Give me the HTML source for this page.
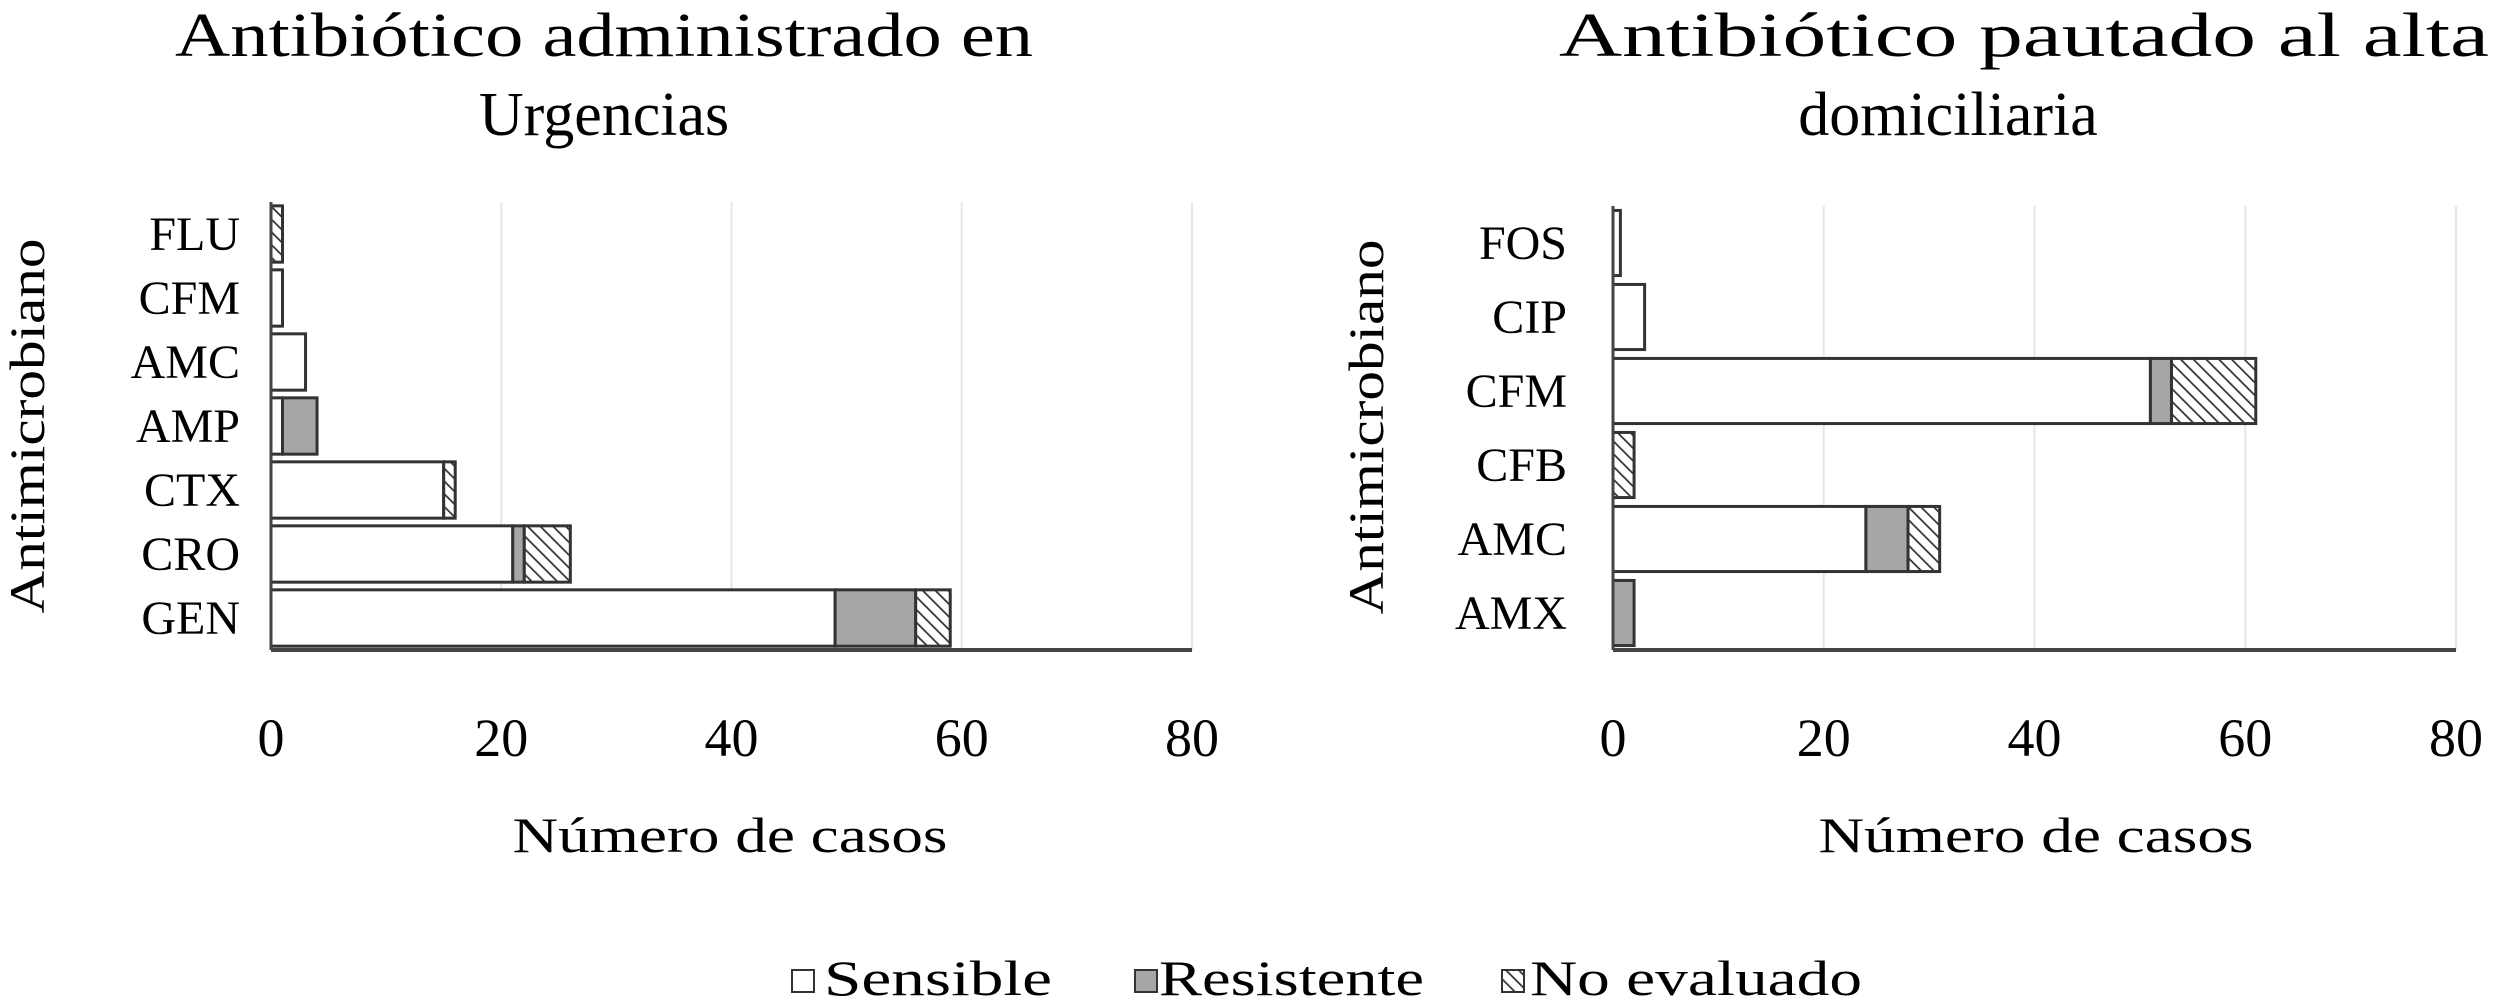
<!DOCTYPE html>
<html><head><meta charset="utf-8"><style>
body{margin:0;background:#fff}
svg{display:block;font-family:"Liberation Serif",serif}
</style></head><body>
<svg id="chart" width="2500" height="1008" viewBox="0 0 2500 1008">
<defs>
<pattern id="hatch" patternUnits="userSpaceOnUse" width="9" height="9" patternTransform="rotate(-45)">
<rect width="9" height="9" fill="#fff"/><line x1="0" y1="0" x2="0" y2="9" stroke="#333" stroke-width="3.5"/>
</pattern>
</defs>
<text x="604" y="56" font-size="62" text-anchor="middle" textLength="858" lengthAdjust="spacingAndGlyphs">Antibiótico administrado en</text>
<text x="604" y="135" font-size="62" text-anchor="middle">Urgencias</text>
<text x="2024" y="56" font-size="62" text-anchor="middle" textLength="930" lengthAdjust="spacingAndGlyphs">Antibiótico pautado al alta</text>
<text x="1948" y="135" font-size="62" text-anchor="middle">domiciliaria</text>
<text transform="translate(44,426) rotate(-90)" font-size="50" text-anchor="middle" textLength="375" lengthAdjust="spacingAndGlyphs">Antimicrobiano</text>
<text transform="translate(1383,427) rotate(-90)" font-size="50" text-anchor="middle" textLength="375" lengthAdjust="spacingAndGlyphs">Antimicrobiano</text>
<text x="730" y="852" font-size="50" text-anchor="middle" textLength="435" lengthAdjust="spacingAndGlyphs">Número de casos</text>
<text x="2036" y="852" font-size="50" text-anchor="middle" textLength="435" lengthAdjust="spacingAndGlyphs">Número de casos</text>
<g>
<rect x="792" y="970" width="22" height="22" fill="#fff" stroke="#333" stroke-width="2"/>
<text x="824" y="995" font-size="50" textLength="228" lengthAdjust="spacingAndGlyphs">Sensible</text>
<rect x="1135" y="970" width="22" height="22" fill="#a6a6a6" stroke="#333" stroke-width="2"/>
<text x="1159" y="995" font-size="50" textLength="265" lengthAdjust="spacingAndGlyphs">Resistente</text>
<rect x="1502" y="970" width="22" height="22" fill="url(#hatch)" stroke="#333" stroke-width="2"/>
<text x="1530" y="995" font-size="50" textLength="332" lengthAdjust="spacingAndGlyphs">No evaluado</text>
</g>
</svg>
<script>
const ticks=[0,20,40,60,80];
const leftCats=["FLU","CFM","AMC","AMP","CTX","CRO","GEN"];
const leftSensible=[0,1,3,1,15,21,49];
const leftResistente=[0,0,0,3,0,1,7];
const leftNoEval=[1,0,0,0,1,4,3];
const rightCats=["FOS","CIP","CFM","CFB","AMC","AMX"];
const rightSensible=[0.7,3,51,0,24,0];
const rightResistente=[0,0,2,0,4,2];
const rightNoEval=[0,0,8,2,3,0];
const svg=document.getElementById('chart');
const NS='http://www.w3.org/2000/svg';
function mk(tag,attrs){const e=document.createElementNS(NS,tag);for(const k in attrs)e.setAttribute(k,attrs[k]);svg.appendChild(e);return e;}
function panel(p,cats,s,r,n,x0,x80,top,base,labelX){
  const xs=v=>x0+(x80-x0)*v/80;
  const band=(base-top)/cats.length;
  ticks.forEach(t=>{
    if(t>0){const g=mk('line',{x1:xs(t),x2:xs(t),y1:top,y2:base,stroke:'#e6e6e6','stroke-width':2});
    
    }
    const tl=mk('text',{x:xs(t),y:756,'font-size':54,'text-anchor':'middle'});tl.textContent=t;
    
    
  });
  cats.forEach((c,i)=>{
    const cy=top+band*(i+0.5),h=band*0.88,y=cy-h/2;
    const lab=mk('text',{x:labelX,y:cy+16,'font-size':48,'text-anchor':'end'});lab.textContent=c;
    
    
    let acc=0;
    [[s[i],'#fff','sensible'],[r[i],'#a6a6a6','resistente'],[n[i],'url(#hatch)','no-evaluado']].forEach(([v,f,nm])=>{
      if(v>0){const b=mk('rect',{x:xs(acc),y:y,width:xs(acc+v)-xs(acc),height:h,fill:f,stroke:'#333','stroke-width':3});
      
      }
      acc+=v;
    });
  });
  const ax=mk('line',{x1:x0,x2:x0,y1:top,y2:base,stroke:'#444','stroke-width':3});
  
  
  const bx=mk('line',{x1:x0,x2:x80,y1:base,y2:base,stroke:'#444','stroke-width':4});
  
  
}
panel('left',leftCats,leftSensible,leftResistente,leftNoEval,271,1192,202,650,240);
panel('right',rightCats,rightSensible,rightResistente,rightNoEval,1613,2456,206,650,1567);
</script>
</body></html>
